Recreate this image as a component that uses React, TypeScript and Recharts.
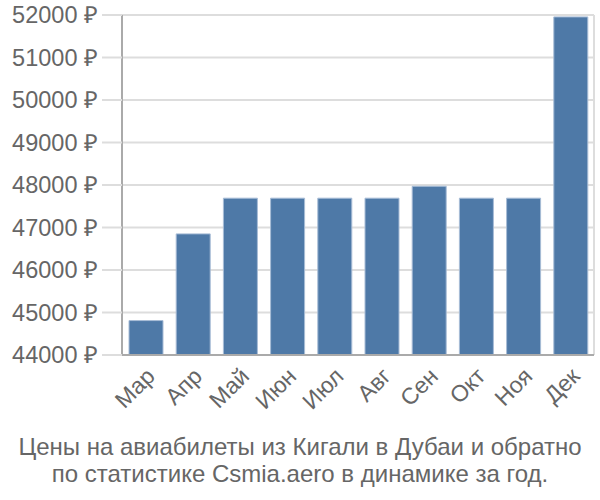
import { BarChart, Bar, XAxis, YAxis, CartesianGrid } from "recharts";

const months = ["Мар", "Апр", "Май", "Июн", "Июл", "Авг", "Сен", "Окт", "Ноя", "Дек"];
const prices = [44810, 46850, 47690, 47690, 47690, 47690, 47970, 47690, 47690, 51955];
const yTicks = [44000, 45000, 46000, 47000, 48000, 49000, 50000, 51000, 52000];
const gridTicks = [0, 1, 2, 3, 4, 5, 6, 7, 8, 9, 10];

const data = months.map((m, i) => ({ month: m, idx: i + 0.5, price: prices[i] }));

const TEXT = "#666666";
const GRID = "#dddddd";

const MonthTick = ({ x, y, payload }: any) => (
  <text
    x={x + 5}
    y={y + 9}
    transform={`rotate(-45 ${x + 5} ${y + 9})`}
    textAnchor="end"
    dominantBaseline="central"
    fill={TEXT}
    fontSize={23}
  >
    {payload.value}
  </text>
);

export default function App() {
  return (
    <div
      style={{
        position: "absolute",
        left: 0,
        top: 0,
        width: 600,
        height: 500,
        fontFamily: "'Liberation Sans', Arial, sans-serif",
      }}
    >
      <BarChart
        width={600}
        height={500}
        data={data}
        margin={{ top: 15, right: 6, bottom: 0, left: 0 }}
        barSize={34}
      >
        <CartesianGrid stroke={GRID} strokeWidth={2} xAxisId="grid" />
        <XAxis
          xAxisId="grid"
          type="number"
          dataKey="idx"
          domain={[0, 10]}
          ticks={gridTicks}
          tick={false}
          tickSize={18}
          tickLine={{ stroke: GRID, strokeWidth: 2 }}
          axisLine={false}
          height={0}
        />
        <XAxis
          xAxisId="cat"
          dataKey="month"
          interval={0}
          tick={<MonthTick />}
          tickLine={false}
          axisLine={{ stroke: "#aaaaaa", strokeWidth: 2 }}
          height={145}
        />
        <YAxis
          domain={[44000, 52000]}
          ticks={yTicks}
          interval={0}
          width={122}
          tickFormatter={(v) => `${v} ₽`}
          tick={{ fill: TEXT, fontSize: 23.5 }}
          tickSize={20}
          tickMargin={4}
          tickLine={{ stroke: GRID, strokeWidth: 2 }}
          axisLine={{ stroke: "#aaaaaa", strokeWidth: 2 }}
        />
        <Bar
          xAxisId="cat"
          dataKey="price"
          fill="#4e79a7"
          stroke="#a7bcd6"
          strokeWidth={1}
          isAnimationActive={false}
        />
      </BarChart>
      <div
        style={{
          position: "absolute",
          left: 0,
          top: 433,
          width: 600,
          textAlign: "center",
          color: TEXT,
          fontSize: 24,
          lineHeight: "27px",
        }}
      >
        Цены на авиабилеты из Кигали в Дубаи и обратно
        <br />
        по статистике Csmia.aero в динамике за год.
      </div>
    </div>
  );
}
